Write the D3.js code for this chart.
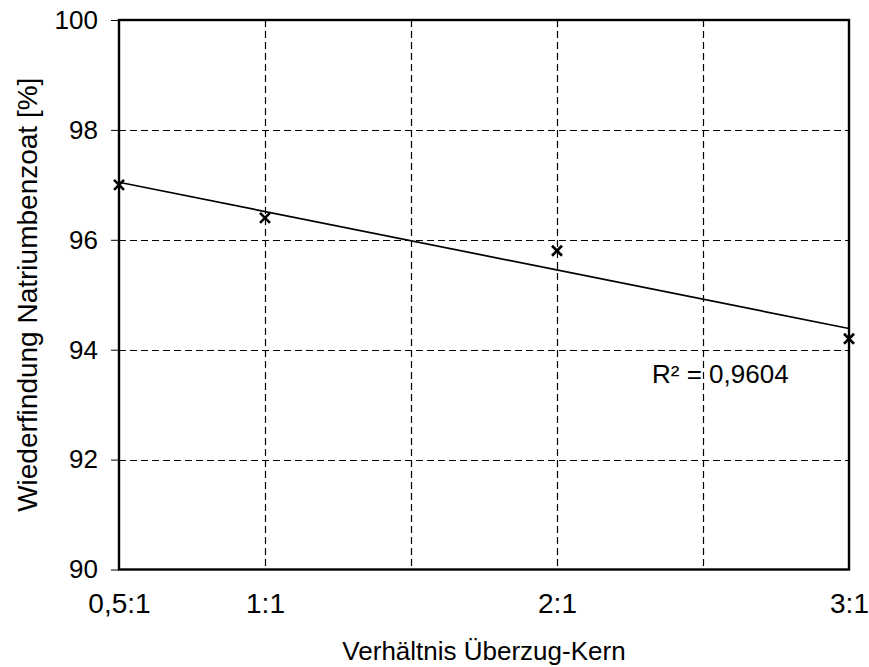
<!DOCTYPE html>
<html>
<head>
<meta charset="utf-8">
<script src="https://cdn.jsdelivr.net/npm/d3@7"></script>
<style>
  html, body { margin: 0; padding: 0; background: #fff; }
  svg { display: block; font-family: "Liberation Sans", Arial, sans-serif; }
</style>
</head>
<body>
<svg id="chart" width="869" height="667"></svg>
<script>
// ---- data ----
const ratios = [0.5, 1, 2, 3];
const recovery = [97.0, 96.4, 95.8, 94.2];
const xTickValues = [0.5, 1, 2, 3];
const xTickLabels = ["0,5:1", "1:1", "2:1", "3:1"];
const xGridValues = [1, 1.5, 2, 2.5];
const yTickValues = [90, 92, 94, 96, 98, 100];
const yGridValues = [92, 94, 96, 98];
const xTitle = "Verhältnis Überzug-Kern";
const yTitle = "Wiederfindung Natriumbenzoat [%]";
const r2Label = "R² = 0,9604";

const svg = d3.select("#chart");
const m = { left: 119, right: 849, top: 20, bottom: 569.5 };

const x = d3.scaleLinear().domain([0.5, 3]).range([m.left, m.right]);
const y = d3.scaleLinear().domain([90, 100]).range([m.bottom, m.top]);
const crisp = v => Math.round(v) + 0.5;

// gridlines
svg.append("g").selectAll("line").data(yGridValues).join("line")
  .attr("x1", m.left).attr("x2", m.right)
  .attr("y1", d => crisp(y(d))).attr("y2", d => crisp(y(d)))
  .attr("stroke", "#000").attr("stroke-width", 1.2).attr("stroke-dasharray", "7,4");
svg.append("g").selectAll("line").data(xGridValues).join("line")
  .attr("y1", m.top).attr("y2", m.bottom)
  .attr("x1", d => crisp(x(d))).attr("x2", d => crisp(x(d)))
  .attr("stroke", "#000").attr("stroke-width", 1.2).attr("stroke-dasharray", "7,4");

// y axis
const yAxis = d3.axisLeft(y).tickValues(yTickValues).tickSize(8).tickPadding(13)
  .tickFormat(d3.format("d"));
const gy = svg.append("g").attr("transform", `translate(${m.left},0)`).call(yAxis);
gy.select(".domain").remove();
gy.selectAll(".tick line").attr("stroke", "#000").attr("stroke-width", 1);
gy.selectAll(".tick text").attr("font-size", 26).attr("fill", "#000")
  .attr("font-family", "Liberation Sans, Arial, sans-serif");

// x axis
const xAxis = d3.axisBottom(x).tickValues(xTickValues).tickSize(0).tickPadding(24)
  .tickFormat((d, i) => xTickLabels[i]);
const gx = svg.append("g").attr("transform", `translate(0,${m.bottom})`).call(xAxis);
gx.select(".domain").remove();
gx.selectAll(".tick text").attr("font-size", 28).attr("fill", "#000")
  .attr("font-family", "Liberation Sans, Arial, sans-serif");

// frame
svg.append("rect")
  .attr("x", m.left).attr("y", m.top)
  .attr("width", m.right - m.left).attr("height", m.bottom - m.top)
  .attr("fill", "none").attr("stroke", "#000").attr("stroke-width", 2.4);

// linear trendline (least squares of the data)
const n = ratios.length;
const mx = d3.mean(ratios), my = d3.mean(recovery);
let sxy = 0, sxx = 0;
for (let i = 0; i < n; i++) { sxy += (ratios[i] - mx) * (recovery[i] - my); sxx += (ratios[i] - mx) ** 2; }
const slope = sxy / sxx, intercept = my - slope * mx;
const xDom = x.domain();
svg.append("line")
  .attr("x1", x(xDom[0])).attr("y1", y(intercept + slope * xDom[0]))
  .attr("x2", x(xDom[1])).attr("y2", y(intercept + slope * xDom[1]))
  .attr("stroke", "#000").attr("stroke-width", 1.7);

// markers
const s = 5;
const pts = svg.append("g").selectAll("g").data(ratios.map((r, i) => [r, recovery[i]])).join("g")
  .attr("transform", d => `translate(${x(d[0])},${y(d[1])})`);
pts.append("path").attr("d", `M${-s},${-s}L${s},${s}M${-s},${s}L${s},${-s}`)
  .attr("stroke", "#000").attr("stroke-width", 2.6).attr("fill", "none");

// R² label
svg.append("text").attr("x", 652).attr("y", 383)
  .attr("font-size", 26).attr("fill", "#000").text(r2Label);

// axis titles
svg.append("text").attr("x", (m.left + m.right) / 2).attr("y", 660)
  .attr("text-anchor", "middle").attr("font-size", 26).attr("fill", "#000").text(xTitle);
svg.append("text")
  .attr("transform", `translate(37,${(m.top + m.bottom) / 2}) rotate(-90)`)
  .attr("text-anchor", "middle").attr("font-size", 28).attr("fill", "#000").text(yTitle);
</script>
</body>
</html>
